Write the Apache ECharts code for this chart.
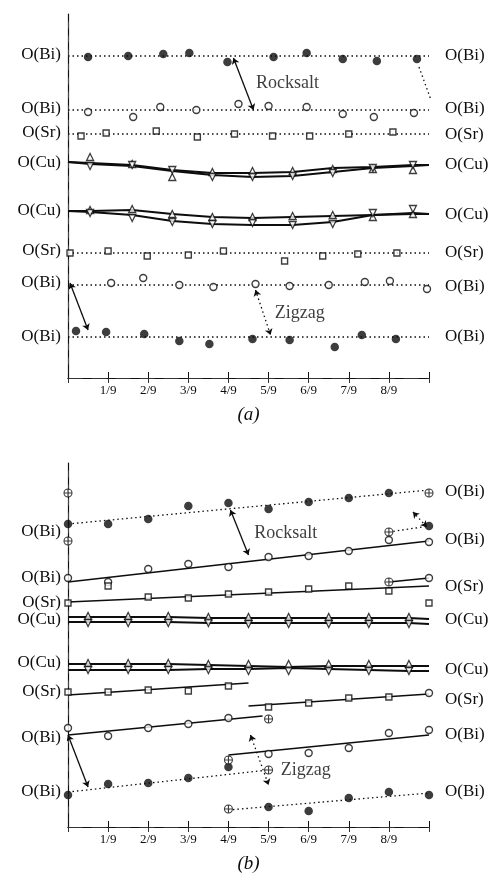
<!DOCTYPE html>
<html>
<head>
<meta charset="utf-8">
<script src="https://cdn.jsdelivr.net/npm/echarts@6/dist/echarts.min.js"></script>
<style>html,body{margin:0;padding:0;background:#fff}#c{width:492px;height:877px}</style>
</head>
<body>
<div id="c"></div>
<script>
// ---------------- tick labels / row labels ----------------
const xTickLabels = ['', '1/9', '2/9', '3/9', '4/9', '5/9', '6/9', '7/9', '8/9', ''];
const panelNames = ['(a)', '(b)'];
const rowLabels = ['O(Bi)', 'O(Bi)', 'O(Sr)', 'O(Cu)', 'O(Cu)', 'O(Sr)', 'O(Bi)', 'O(Bi)'];
const aLeftRowPos  = [323, 269, 245, 215, 167, 127, 95, 41];
const aRightRowPos = [322, 269, 243, 213, 163, 125, 91, 41];
const bLeftRowPos  = [295, 249, 224, 207, 164, 135, 89, 35];
const bRightRowPos = [335, 287, 240, 207, 157, 127, 92, 35];

// ---------------- panel (a) values ----------------
const aBi1X = [0.5, 1.5, 2.375, 3.025, 3.975, 5.125, 5.95, 6.85, 7.7, 8.7];
const aBi1Y = [321, 322, 324, 325, 316, 321, 325, 319, 317, 319];
const aBi1Ref = 322;
const aBi2X = [0.5, 1.625, 2.3, 3.2, 4.25, 5.0, 5.95, 6.85, 7.625, 8.625];
const aBi2Y = [266, 261, 271, 268, 274, 272, 271, 264, 261, 265];
const aBi2Ref = 268;
const aSr1X = [0.325, 0.95, 2.2, 3.225, 4.15, 5.1, 6.025, 7.0, 8.1];
const aSr1Y = [242, 245, 247, 241, 244, 242, 242, 244, 246];
const aSr1Ref = 244;
const aCuLineX = [0, 0.55, 1.6, 2.6, 3.6, 4.6, 5.6, 6.6, 7.6, 8.6, 9];
const aCu1Upper = [216, 215, 213, 208, 205, 205, 206, 210, 211, 213, 213];
const aCu1Lower = [216, 214, 212, 207, 203, 201, 202, 206, 210, 212, 213];
const aCuMarkX = [0.55, 1.6, 2.6, 3.6, 4.6, 5.6, 6.6, 7.6, 8.6];
const aCu1Up   = [221, 214, 201, 206, 207, 207, 209, 209, 208];
const aCu1Down = [212, 213, 208, 201, 201, 202, 205, 210, 213];
const aCu2Upper = [167, 167, 168, 164, 161, 160, 161, 162, 163, 164, 164];
const aCu2Lower = [167, 166, 163, 157, 154, 153, 153, 156, 163, 165, 164];
const aCu2Up   = [168, 169, 164, 161, 161, 162, 163, 161, 164];
const aCu2Down = [165, 160, 156, 154, 155, 153, 154, 165, 169];
const aSr2X = [0.05, 1.0, 1.975, 3.0, 3.875, 5.4, 6.35, 7.225, 8.2, 9.05];
const aSr2Y = [125, 127, 122, 123, 127, 117, 122, 124, 125, 122];
const aSr2Ref = 125;
const aBi3X = [1.075, 1.875, 2.775, 3.625, 4.675, 5.525, 6.5, 7.4, 8.025, 8.95];
const aBi3Y = [95, 100, 93, 91, 94, 92, 93, 96, 97, 89];
const aBi3Ref = 93;
const aBi4X = [0.2, 0.95, 1.9, 2.775, 3.525, 4.6, 5.525, 6.65, 7.325, 8.175];
const aBi4Y = [47, 46, 44, 37, 34, 39, 38, 31, 43, 39];
const aBi4Ref = 41;

// ---------------- panel (b) values ----------------
const ninths = [0, 1, 2, 3, 4, 5, 6, 7, 8, 9];
const bBi1X = [0, 1, 2, 3, 4, 5, 6, 7, 8];
const bBi1Y = [303, 303, 308, 321, 324, 318, 325, 329, 334];
const bBi1Fit = [303, 337];
const bBi1ImgX = [0, 9, 0];
const bBi1ImgY = [334, 334, 286];
const bBi2X = [8, 9];
const bBi2Y = [295, 301];
const bBi3Y = [249, 245, 258, 263, 260, 270, 271, 276, 287, 285];
const bBi3Fit = [245, 286];
const bSr1Y = [224, 241, 230, 229, 233, 235, 238, 241, 236, 224];
const bSr1Fit = [225, 241];
const bSr1bX = [8, 9];
const bSr1bY = [245, 249];
const bCuLineX = [0, 0.5, 1.5, 2.5, 3.5, 4.5, 5.5, 6.5, 7.5, 8.5, 9];
const bCuMarkX = [0.5, 1.5, 2.5, 3.5, 4.5, 5.5, 6.5, 7.5, 8.5];
const bCu1Upper = [210, 210, 210, 210, 209, 209, 209, 209, 209, 209, 208];
const bCu1Lower = [205, 205, 205, 205, 204, 204, 204, 204, 204, 204, 203];
const bCu1Up   = [211, 211, 211, 210, 210, 210, 210, 210, 210];
const bCu1Down = [204, 204, 204, 204, 203, 203, 203, 203, 203];
const bCu2Upper = [163, 163, 163, 163, 162, 161, 160, 161, 161, 161, 161];
const bCu2Lower = [157, 157, 157, 157, 158, 158, 159, 158, 157, 156, 156];
const bCu2Up   = [164, 164, 164, 163, 163, 163, 163, 163, 163];
const bCu2Down = [157, 157, 157, 157, 156, 156, 156, 156, 156];
const bSr2LX = [0, 1, 2, 3, 4];
const bSr2LY = [135, 135, 137, 136, 141];
const bSr2LFitX = [0, 4.5];
const bSr2LFitY = [132, 144];
const bSr2RX = [5, 6, 7, 8];
const bSr2RY = [120, 124, 129, 130];
const bSr2REndX = [9];
const bSr2REndY = [134];
const bSr2RFitX = [4.5, 9];
const bSr2RFitY = [121, 133];
const bBi5LX = [0, 1, 2, 3, 4];
const bBi5LY = [99, 91, 99, 103, 109];
const bBi5LFitX = [0, 4.85];
const bBi5LFitY = [92, 111];
const bBi5RX = [5, 6, 7, 8, 9];
const bBi5RY = [73, 74, 79, 94, 97];
const bBi5RFitX = [4, 9];
const bBi5RFitY = [72, 92];
const bBi6LX = [0, 1, 2, 3, 4];
const bBi6LY = [32, 43, 44, 49, 60];
const bBi6LFitX = [0, 5];
const bBi6LFitY = [35, 57];
const bBi6RX = [5, 6, 7, 8, 9];
const bBi6RY = [20, 16, 29, 35, 32];
const bBi6RFitX = [4, 9];
const bBi6RFitY = [17, 34];
const bOplusX = [5, 4, 5, 4];
const bOplusY = [108, 67, 57, 18];

// ---------------- annotations ----------------
const aTexts = [{name: 'Rocksalt', value: [5.47, 295]}, {name: 'Zigzag', value: [5.78, 65]}];
const bTexts = [{name: 'Rocksalt', value: [5.43, 294]}, {name: 'Zigzag', value: [5.93, 57]}];
const aArrowsSolid = [[[4.125, 320], [4.625, 268]], [[0.05, 95], [0.5, 48]]];
const aArrowsDotted = [[[4.675, 88], [5.05, 43]]];
const aDottedPlain = [[[8.75, 311], [9.05, 278]]];
const bArrowsSolid = [[[4.05, 317], [4.5, 272]], [[0.0, 92], [0.5, 40]]];
const bArrowsDotted = [[[4.55, 92], [5.0, 42]], [[8.6, 315], [8.95, 300]]];

// ---------------- helpers ----------------
const INK = '#0d0d0d';
const FONT = 'Liberation Serif';
const zip = (xs, ys) => xs.map((x, i) => [x, ys[i]]);
const OPLUS = 'path://M0,10A10,10,0,1,0,20,10A10,10,0,1,0,0,10ZM10,0L10,20M0,10L20,10';
const STY = {
  filled: {symbol: 'circle', symbolSize: 8.5, itemStyle: {color: INK}},
  open: {symbol: 'circle', symbolSize: 7, itemStyle: {color: '#fff', borderColor: INK, borderWidth: 1.4}},
  square: {symbol: 'rect', symbolSize: 6, itemStyle: {color: '#fff', borderColor: INK, borderWidth: 1.4}},
  up: {symbol: 'triangle', symbolSize: [7, 7], itemStyle: {color: '#fff', borderColor: INK, borderWidth: 1.3}},
  down: {symbol: 'triangle', symbolRotate: 180, symbolSize: [7, 7], itemStyle: {color: '#fff', borderColor: INK, borderWidth: 1.3}},
  oplus: {symbol: OPLUS, symbolSize: 8, itemStyle: {color: '#fff', borderColor: INK, borderWidth: 1.1}}
};
const series = [];
function pts(g, xs, ys, kind) {
  series.push(Object.assign({type: 'scatter', xAxisIndex: g * 2, yAxisIndex: g * 2, data: zip(xs, ys), z: 5, silent: true}, STY[kind]));
}
function ln(g, xs, ys, dotted, width) {
  series.push({type: 'line', xAxisIndex: g * 2, yAxisIndex: g * 2, data: zip(xs, ys), symbol: 'none', z: 3, silent: true,
    lineStyle: {color: INK, width: width || (dotted ? 1.3 : 1.5), type: dotted ? [1.5, 3] : 'solid'}});
}
function ref(g, y) { ln(g, [0, 9], [y, y], true); }
function arrows(g, list, dotted, withArrow) {
  series.push({type: 'lines', coordinateSystem: 'cartesian2d', xAxisIndex: g * 2, yAxisIndex: g * 2, z: 6, silent: true,
    symbol: withArrow ? ['arrow', 'arrow'] : ['none', 'none'], symbolSize: 6,
    lineStyle: {color: INK, width: 1.3, type: dotted ? [1.5, 3] : 'solid', opacity: 1},
    data: list.map(c => ({coords: c}))});
}
function texts(g, list) {
  series.push({type: 'scatter', xAxisIndex: g * 2, yAxisIndex: g * 2, symbolSize: 0, z: 7, silent: true, data: list,
    label: {show: true, position: 'inside', formatter: p => p.name, color: INK, fontSize: 18, fontFamily: FONT}});
}

// ----- panel (a) -----
ref(0, aBi1Ref); pts(0, aBi1X, aBi1Y, 'filled');
ref(0, aBi2Ref); pts(0, aBi2X, aBi2Y, 'open');
ref(0, aSr1Ref); pts(0, aSr1X, aSr1Y, 'square');
ln(0, aCuLineX, aCu1Upper, false, 1.8); ln(0, aCuLineX, aCu1Lower, false, 1.8);
pts(0, aCuMarkX, aCu1Up, 'up'); pts(0, aCuMarkX, aCu1Down, 'down');
ln(0, aCuLineX, aCu2Upper, false, 1.8); ln(0, aCuLineX, aCu2Lower, false, 1.8);
pts(0, aCuMarkX, aCu2Up, 'up'); pts(0, aCuMarkX, aCu2Down, 'down');
ref(0, aSr2Ref); pts(0, aSr2X, aSr2Y, 'square');
ref(0, aBi3Ref); pts(0, aBi3X, aBi3Y, 'open');
ref(0, aBi4Ref); pts(0, aBi4X, aBi4Y, 'filled');
arrows(0, aArrowsSolid, false, true);
arrows(0, aArrowsDotted, true, true);
arrows(0, aDottedPlain, true, false);
texts(0, aTexts);

// ----- panel (b) -----
ln(1, [0, 9], bBi1Fit, true); pts(1, bBi1X, bBi1Y, 'filled'); pts(1, bBi1ImgX, bBi1ImgY, 'oplus');
ln(1, bBi2X, bBi2Y, true); pts(1, [bBi2X[0]], [bBi2Y[0]], 'oplus'); pts(1, [bBi2X[1]], [bBi2Y[1]], 'filled');
ln(1, [0, 9], bBi3Fit, false); pts(1, ninths, bBi3Y, 'open');
ln(1, [0, 9], bSr1Fit, false); pts(1, ninths, bSr1Y, 'square');
ln(1, bSr1bX, bSr1bY, false); pts(1, [bSr1bX[0]], [bSr1bY[0]], 'oplus'); pts(1, [bSr1bX[1]], [bSr1bY[1]], 'open');
ln(1, bCuLineX, bCu1Upper, false, 1.8); ln(1, bCuLineX, bCu1Lower, false, 1.8);
pts(1, bCuMarkX, bCu1Up, 'up'); pts(1, bCuMarkX, bCu1Down, 'down');
ln(1, bCuLineX, bCu2Upper, false, 1.8); ln(1, bCuLineX, bCu2Lower, false, 1.8);
pts(1, bCuMarkX, bCu2Up, 'up'); pts(1, bCuMarkX, bCu2Down, 'down');
ln(1, bSr2LFitX, bSr2LFitY, false); pts(1, bSr2LX, bSr2LY, 'square');
ln(1, bSr2RFitX, bSr2RFitY, false); pts(1, bSr2RX, bSr2RY, 'square'); pts(1, bSr2REndX, bSr2REndY, 'open');
ln(1, bBi5LFitX, bBi5LFitY, false); pts(1, bBi5LX, bBi5LY, 'open');
ln(1, bBi5RFitX, bBi5RFitY, false); pts(1, bBi5RX, bBi5RY, 'open');
ln(1, bBi6LFitX, bBi6LFitY, true); pts(1, bBi6LX, bBi6LY, 'filled');
ln(1, bBi6RFitX, bBi6RFitY, true); pts(1, bBi6RX, bBi6RY, 'filled');
pts(1, bOplusX, bOplusY, 'oplus');
arrows(1, bArrowsSolid, false, true);
arrows(1, bArrowsDotted, true, true);
texts(1, bTexts);

// ---------------- axes ----------------
function rowFormatter(pos) {
  return v => { const i = pos.indexOf(v); return i >= 0 ? rowLabels[i] : ''; };
}
function yAx(g, pos, side) {
  return {type: 'value', gridIndex: g, position: side, min: 0, max: 364, interval: 1,
    splitLine: {show: false}, axisTick: {show: false},
    axisLine: {show: true, lineStyle: side === 'left' ? {color: '#111', width: 1.2} : {color: '#444', width: 1, type: [6, 8]}},
    axisLabel: {formatter: rowFormatter(pos), color: INK, fontSize: 17, fontFamily: FONT, margin: side === 'left' ? 7 : 16}};
}
function xBottom(g) {
  return {type: 'value', gridIndex: g, position: 'bottom', min: 0, max: 9, interval: 1,
    splitLine: {show: false},
    axisLine: {show: true, lineStyle: {color: '#111', width: 1.2}},
    axisTick: {show: true, inside: true, length: 6, lineStyle: {color: '#111'}},
    axisLabel: {formatter: v => xTickLabels[v] || '', color: INK, fontSize: 13, fontFamily: FONT, margin: 6},
    name: panelNames[g], nameLocation: 'middle', nameGap: 27,
    nameTextStyle: {fontSize: 19, fontStyle: 'italic', fontFamily: FONT, color: INK}};
}
function xTop(g) {
  return {type: 'value', gridIndex: g, position: 'top', min: 0, max: 9, interval: 1,
    splitLine: {show: false},
    axisLine: {show: true, lineStyle: {color: '#333', width: 1.2, type: [14, 10]}},
    axisTick: {show: true, inside: true, length: 5, lineStyle: {color: '#333'}},
    axisLabel: {show: false}};
}

const chart = echarts.init(document.getElementById('c'), null, {renderer: 'canvas'});
chart.setOption({
  animation: false,
  backgroundColor: '#fff',
  grid: [
    {left: 68, top: 14, width: 361, height: 364},
    {left: 68, top: 463, width: 361, height: 364}
  ],
  xAxis: [xBottom(0), xTop(0), xBottom(1), xTop(1)],
  yAxis: [yAx(0, aLeftRowPos, 'left'), yAx(0, aRightRowPos, 'right'), yAx(1, bLeftRowPos, 'left'), yAx(1, bRightRowPos, 'right')],
  series: series
});
</script>
</body>
</html>
